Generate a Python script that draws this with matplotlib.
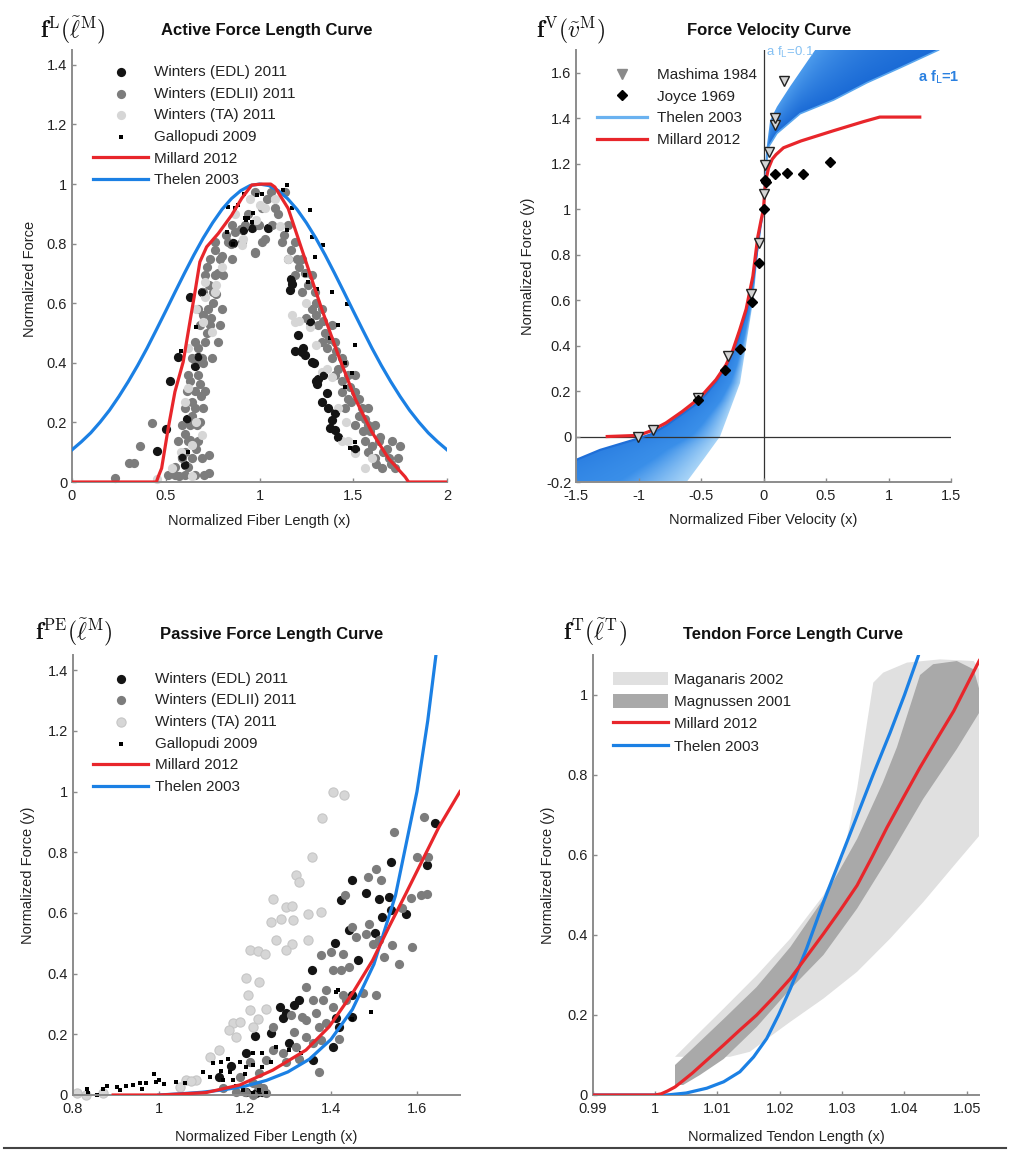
import numpy as np
import matplotlib
matplotlib.use('Agg')
import matplotlib.pyplot as plt
from matplotlib.patches import Polygon, Patch
from matplotlib.lines import Line2D
from matplotlib.colors import LinearSegmentedColormap

plt.rcParams['font.family'] = ['Liberation Sans', 'DejaVu Sans']
plt.rcParams['font.size'] = 10.5

# ---------------- DATA ----------------
# Active force-length
afl_thelen_y = [0.108, 0.135, 0.165, 0.201, 0.241, 0.287, 0.337, 0.391, 0.449, 0.511, 0.574,
                0.638, 0.701, 0.762, 0.819, 0.870, 0.915, 0.951, 0.978, 0.995, 1.0,
                0.995, 0.978, 0.951, 0.915, 0.870, 0.819, 0.762, 0.701, 0.638, 0.574,
                0.511, 0.449, 0.391, 0.337, 0.287, 0.241, 0.201, 0.165, 0.135, 0.108]
afl_thelen_x = [round(0.05 * i, 2) for i in range(41)]
afl_mil_x = [0.0, 0.45, 0.46, 0.478, 0.513, 0.549, 0.593, 0.629, 0.656, 0.682, 0.718, 0.78, 0.852, 0.905, 0.959,
             1.012, 1.06, 1.082, 1.153, 1.242, 1.331, 1.42, 1.51, 1.599, 1.688, 1.777, 1.795, 2.0]
afl_mil_y = [0.0, 0.0, 0.018, 0.046, 0.18, 0.303, 0.403, 0.538, 0.638, 0.739, 0.789, 0.834, 0.896, 0.952, 0.997,
             1.0, 1.0, 0.99, 0.918, 0.75, 0.582, 0.426, 0.28, 0.168, 0.079, 0.017, 0.0, 0.0]

afl_edl_x = [0.629, 0.563, 0.522, 0.670, 0.656, 0.615, 0.501, 0.454, 0.585, 0.603, 0.691, 0.852, 0.959, 1.046,
             1.171, 1.162, 1.269, 1.206, 1.224, 1.242, 1.278, 1.314, 1.305, 1.331, 1.366, 1.385, 1.376, 1.403,
             1.51, 1.40, 1.42, 1.36, 1.34, 1.30, 1.29, 1.17, 1.19, 1.23, 0.859, 0.913]
afl_edl_y = [0.622, 0.42, 0.339, 0.42, 0.39, 0.213, 0.178, 0.104, 0.085, 0.057, 0.638, 0.801, 0.851, 0.851,
             0.666, 0.644, 0.538, 0.493, 0.437, 0.426, 0.403, 0.347, 0.33, 0.269, 0.247, 0.208, 0.18, 0.174,
             0.112, 0.23, 0.15, 0.30, 0.36, 0.34, 0.40, 0.68, 0.44, 0.45, 0.802, 0.847]
afl_edlii_x = [0.513, 0.551, 0.604, 0.658, 0.703, 0.729, 0.585, 0.639, 0.693, 0.729, 0.567, 0.62, 0.674,
               0.585, 0.629, 0.665, 0.603, 0.656, 0.70, 0.611, 0.656, 0.709, 0.62, 0.674, 0.638, 0.691, 0.745,
               0.656, 0.709, 0.78, 0.682, 0.736, 0.789, 0.674, 0.727, 0.798, 0.70, 0.754, 0.709, 0.763, 0.807,
               0.736, 0.789, 0.852, 0.763, 0.834, 0.905, 0.852, 0.923, 0.995, 0.977,
               0.427, 0.364, 0.302, 0.328, 0.23,
               0.55, 0.62, 0.66, 0.60, 0.64, 0.68, 0.66, 0.72, 0.70, 0.75, 0.73, 0.78, 0.80, 0.87, 0.94, 0.82,
               0.57, 0.60, 0.63, 0.68, 0.64, 0.69, 0.63, 0.70, 0.67, 0.74, 0.77, 0.72, 0.76, 0.85, 0.90,
               0.975, 1.06, 1.135, 1.011, 1.082, 0.993, 1.064, 1.153, 1.011, 1.118, 1.189, 1.153, 1.225,
               1.189, 1.278, 1.225, 1.296, 1.278, 1.331, 1.314, 1.385, 1.331, 1.403, 1.385, 1.438,
               1.403, 1.474, 1.51, 1.438, 1.51, 1.456, 1.545, 1.581, 1.51, 1.581, 1.617, 1.563, 1.635, 1.706,
               1.617, 1.688, 1.741, 1.652, 1.724, 0.975, 1.028,
               1.25, 1.36, 1.42, 1.47, 1.53, 1.60, 1.66, 1.35, 1.30, 1.24, 1.20, 1.48, 1.55,
               1.04, 1.10, 1.13, 1.17, 1.21, 1.26, 1.30, 1.34, 1.37, 1.41, 1.45, 1.44, 1.49, 1.53, 1.56, 1.59,
               1.64, 1.68, 1.70, 1.62, 1.58, 1.75]
afl_edlii_y = [0.024, 0.024, 0.024, 0.024, 0.024, 0.03, 0.08, 0.08, 0.08, 0.09, 0.136, 0.136, 0.136,
               0.192, 0.192, 0.192, 0.248, 0.248, 0.248, 0.304, 0.304, 0.304, 0.36, 0.36, 0.416, 0.416, 0.416,
               0.47, 0.47, 0.47, 0.527, 0.527, 0.527, 0.582, 0.582, 0.582, 0.638, 0.638, 0.694, 0.694, 0.694,
               0.75, 0.75, 0.75, 0.806, 0.806, 0.806, 0.862, 0.862, 0.862, 0.77,
               0.197, 0.122, 0.063, 0.063, 0.013,
               0.05, 0.05, 0.11, 0.16, 0.27, 0.33, 0.40, 0.50, 0.56, 0.60, 0.66, 0.70, 0.76, 0.84, 0.90, 0.83,
               0.02, 0.10, 0.14, 0.20, 0.22, 0.29, 0.34, 0.40, 0.45, 0.55, 0.63, 0.72, 0.78, 0.80, 0.85,
               0.974, 0.974, 0.974, 0.918, 0.918, 0.862, 0.862, 0.862, 0.806, 0.806, 0.806, 0.75, 0.75,
               0.694, 0.694, 0.638, 0.638, 0.582, 0.582, 0.527, 0.527, 0.47, 0.47, 0.415, 0.415,
               0.359, 0.359, 0.359, 0.303, 0.303, 0.247, 0.247, 0.247, 0.192, 0.192, 0.192, 0.136, 0.136, 0.136,
               0.08, 0.08, 0.08, 0.046, 0.046, 0.773, 0.817,
               0.55, 0.45, 0.38, 0.28, 0.22, 0.12, 0.10, 0.50, 0.60, 0.70, 0.75, 0.32, 0.17,
               0.95, 0.90, 0.83, 0.78, 0.72, 0.66, 0.56, 0.54, 0.48, 0.44, 0.40, 0.34, 0.27, 0.28, 0.21, 0.17,
               0.15, 0.11, 0.06, 0.06, 0.10, 0.12]
afl_ta_x = [0.709, 0.763, 0.77, 0.70, 0.62, 0.603, 0.533, 0.745, 0.905, 0.914, 0.691, 0.638, 0.452,
            1.189, 1.171, 1.438, 1.474, 1.331, 1.153, 1.028, 1.385, 1.51, 1.42, 1.563,
            0.95, 1.0, 0.98, 1.08, 0.64, 0.62, 0.66, 1.21, 1.36, 1.27,
            0.58, 0.66, 0.71, 0.80, 1.11, 1.25, 1.46, 1.60, 1.30, 0.87]
afl_ta_y = [0.672, 0.638, 0.66, 0.538, 0.315, 0.27, 0.046, 0.503, 0.795, 0.817, 0.158, 0.124, 0.01,
            0.538, 0.56, 0.136, 0.136, 0.37, 0.75, 0.918, 0.353, 0.097, 0.247, 0.046,
            0.95, 0.93, 0.88, 0.95, 0.02, 0.45, 0.58, 0.54, 0.38, 0.52,
            0.10, 0.20, 0.62, 0.72, 0.86, 0.60, 0.20, 0.08, 0.46, 0.90]
afl_gal_x = [0.825, 0.887, 0.923, 0.959, 0.986, 0.918, 0.834, 0.87, 0.941, 1.269, 1.144, 1.126, 1.278, 1.34,
             1.296, 1.385, 1.465, 1.42, 1.376, 1.51, 1.456, 1.492, 1.456, 1.51, 1.011, 1.171, 1.144, 1.26,
             1.305, 1.242, 0.966, 0.93, 0.62, 0.58, 0.66, 1.483, 0.86]
afl_gal_y = [0.84, 0.929, 0.885, 0.873, 0.963, 0.968, 0.924, 0.92, 0.885, 0.912, 0.998, 0.98, 0.823, 0.795,
             0.755, 0.638, 0.599, 0.527, 0.483, 0.46, 0.398, 0.365, 0.32, 0.135, 0.968, 0.918, 0.845, 0.672,
             0.649, 0.694, 0.903, 0.88, 0.10, 0.44, 0.52, 0.114, 0.80]

# Force-velocity
fv_mil_x = [-1.25, -1.0, -0.9, -0.78, -0.65, -0.51, -0.38, -0.3, -0.245, -0.19, -0.139, -0.1, -0.085, -0.06,
            -0.045, -0.02, 0.0, 0.01, 0.02, 0.04, 0.07, 0.1, 0.16, 0.3, 0.56, 0.8, 0.93, 1.25]
fv_mil_y = [0.0, 0.005, 0.025, 0.06, 0.11, 0.17, 0.25, 0.315, 0.38, 0.47, 0.56, 0.665, 0.705, 0.816,
            0.88, 0.95, 1.0, 1.08, 1.13, 1.18, 1.22, 1.24, 1.27, 1.30, 1.345, 1.385, 1.405, 1.405]
fv_af1_neg_x = [-1.5, -1.308, -1.041, -0.9, -0.775, -0.508, -0.38, -0.295, -0.2, -0.135, -0.085, -0.055, -0.025, 0.0]
fv_af1_neg_y = [-0.103, -0.059, -0.015, 0.01, 0.05, 0.155, 0.24, 0.31, 0.43, 0.55, 0.69, 0.80, 0.92, 1.0]
fv_af01_neg_x = [-0.615, -0.48, -0.348, -0.188, -0.081, -0.015, 0.0]
fv_af01_neg_y = [-0.2, -0.1, 0.0, 0.235, 0.603, 0.97, 1.0]
fv_af1_pos_x = [0.0, 0.01, 0.027, 0.04, 0.107, 0.293, 0.56, 0.827, 1.093, 1.40]
fv_af1_pos_y = [1.0, 1.12, 1.215, 1.274, 1.333, 1.42, 1.48, 1.556, 1.622, 1.70]
fv_af01_pos_x = [0.0, 0.02, 0.053, 0.107, 0.213, 0.413]
fv_af01_pos_y = [1.0, 1.25, 1.39, 1.45, 1.54, 1.70]
mash_x = [-1.008, -0.888, -0.528, -0.288, -0.101, -0.035, 0.005, 0.01, 0.04, 0.088, 0.093, 0.165]
mash_y = [0.0, 0.029, 0.169, 0.353, 0.625, 0.853, 1.066, 1.195, 1.252, 1.37, 1.40, 1.563]
joyce_x = [-0.523, -0.307, -0.189, -0.096, -0.04, 0.0, 0.01, 0.019, 0.09, 0.184, 0.312, 0.533]
joyce_y = [0.162, 0.294, 0.387, 0.593, 0.765, 1.0, 1.13, 1.118, 1.154, 1.159, 1.154, 1.209]

# Passive force-length
pfl_thelen_x = [1.0, 1.05, 1.10, 1.15, 1.20, 1.25, 1.30, 1.35, 1.40, 1.45, 1.50, 1.55, 1.60, 1.625, 1.645]
pfl_thelen_y = [0.0, 0.004, 0.009, 0.017, 0.029, 0.048, 0.076, 0.118, 0.183, 0.282, 0.431, 0.657, 1.0, 1.233, 1.46]
pfl_mil_x = [0.894, 1.0, 1.033, 1.11, 1.188, 1.265, 1.342, 1.396, 1.45, 1.497, 1.535, 1.574, 1.6125, 1.651, 1.70]
pfl_mil_y = [0.0, 0.0, 0.002, 0.008, 0.033, 0.082, 0.148, 0.225, 0.335, 0.444, 0.554, 0.663, 0.773, 0.883, 1.0]
pfl_edl_x = [1.641, 1.624, 1.539, 1.448, 1.481, 1.512, 1.423, 1.535, 1.574, 1.54, 1.519, 1.503, 1.443, 1.462,
             1.409, 1.356, 1.327, 1.281, 1.296, 1.315, 1.224, 1.261, 1.45, 1.404, 1.358, 1.419, 1.412, 1.45,
             1.303, 1.288, 1.226, 1.203, 1.167, 1.14, 1.203, 1.24]
pfl_edl_y = [0.896, 0.757, 0.768, 0.709, 0.667, 0.647, 0.641, 0.652, 0.598, 0.609, 0.587, 0.534, 0.543, 0.444,
             0.502, 0.413, 0.3125, 0.291, 0.269, 0.296, 0.196, 0.205, 0.33, 0.159, 0.115, 0.225, 0.255, 0.257,
             0.171, 0.253, 0.005, 0.011, 0.097, 0.058, 0.137, 0.01]
pfl_edlii_x = [1.616, 1.547, 1.601, 1.625, 1.505, 1.486, 1.516, 1.609, 1.624, 1.433, 1.586, 1.566, 1.45, 1.489,
               1.481, 1.458, 1.497, 1.512, 1.543, 1.589, 1.377, 1.40, 1.427, 1.443, 1.404, 1.423, 1.523, 1.558,
               1.342, 1.388, 1.358, 1.381, 1.404, 1.427, 1.435, 1.474, 1.505, 1.307, 1.334, 1.342, 1.365, 1.373,
               1.388, 1.265, 1.315, 1.342, 1.358, 1.377, 1.419, 1.373, 1.319, 1.288, 1.265, 1.249, 1.296, 1.327,
               1.211, 1.234, 1.188, 1.219, 1.242, 1.149, 1.249, 1.20, 1.22, 1.18, 1.23]
pfl_edlii_y = [0.916, 0.866, 0.783, 0.783, 0.746, 0.718, 0.707, 0.659, 0.664, 0.659, 0.648, 0.615, 0.554, 0.565,
               0.532, 0.521, 0.499, 0.51, 0.494, 0.488, 0.461, 0.472, 0.466, 0.422, 0.411, 0.411, 0.455, 0.433,
               0.356, 0.347, 0.312, 0.312, 0.291, 0.329, 0.313, 0.335, 0.329, 0.263, 0.258, 0.247, 0.269, 0.225,
               0.236, 0.225, 0.208, 0.192, 0.17, 0.181, 0.186, 0.077, 0.159, 0.137, 0.148, 0.115, 0.11, 0.12,
               0.11, 0.071, 0.06, 0.038, 0.022, 0.022, 0.005, 0.01, 0.0, 0.01, 0.03]
pfl_ta_x = [1.404, 1.431, 1.379, 1.355, 1.319, 1.327, 1.265, 1.296, 1.31, 1.284, 1.261, 1.312, 1.346, 1.377,
            1.273, 1.31, 1.346, 1.211, 1.23, 1.248, 1.296, 1.203, 1.233, 1.207, 1.211, 1.249, 1.172, 1.188,
            1.164, 1.18, 1.23, 1.219, 1.141, 1.118, 1.064, 1.049, 0.809, 1.087, 1.074, 0.83, 0.87]
pfl_ta_y = [0.998, 0.987, 0.913, 0.784, 0.724, 0.702, 0.647, 0.619, 0.624, 0.581, 0.571, 0.576, 0.598, 0.603,
            0.51, 0.499, 0.51, 0.477, 0.475, 0.466, 0.477, 0.384, 0.373, 0.329, 0.28, 0.285, 0.236, 0.242,
            0.213, 0.192, 0.252, 0.225, 0.148, 0.126, 0.049, 0.027, 0.006, 0.05, 0.047, 0.0, 0.005]
pfl_gal_x = [0.836, 0.856, 0.833, 0.879, 0.902, 0.925, 0.94, 0.956, 0.971, 0.99, 0.994, 1.013, 1.041, 1.103,
             1.126, 1.145, 1.145, 1.165, 1.172, 1.188, 1.203, 1.218, 1.241, 1.241, 1.249, 1.218, 1.195, 1.234,
             1.272, 1.303, 1.33, 1.411, 1.45, 1.493, 1.416, 0.87, 0.91, 0.96, 1.0, 1.06, 1.12, 1.16, 1.20,
             1.22, 1.26, 1.18, 1.15]
pfl_gal_y = [0.005, 0.001, 0.021, 0.03, 0.026, 0.03, 0.033, 0.038, 0.04, 0.07, 0.044, 0.036, 0.044, 0.077,
             0.104, 0.11, 0.08, 0.077, 0.05, 0.11, 0.093, 0.137, 0.137, 0.093, 0.005, 0.005, 0.016, 0.016,
             0.159, 0.148, 0.137, 0.34, 0.252, 0.274, 0.345, 0.02, 0.015, 0.02, 0.05, 0.04, 0.06, 0.12, 0.07,
             0.10, 0.11, 0.03, 0.05]

# Tendon force-length
tfl_mil_x = [0.99, 1.0, 1.001, 1.002, 1.0032, 1.0045, 1.006, 1.0085, 1.011, 1.0135, 1.0163, 1.019, 1.0217,
             1.0243, 1.027, 1.0297, 1.0324, 1.0348, 1.0372, 1.0398, 1.0425, 1.0452, 1.0479, 1.052]
tfl_mil_y = [0.0, 0.0, 0.003, 0.01, 0.02, 0.036, 0.055, 0.09, 0.125, 0.161, 0.2, 0.244, 0.291,
             0.346, 0.403, 0.462, 0.524, 0.595, 0.669, 0.743, 0.819, 0.89, 0.96, 1.086]
tfl_thelen_x = [0.99, 1.0019, 1.005, 1.0083, 1.011, 1.0136, 1.0158, 1.0179, 1.0198, 1.0217, 1.0243, 1.027,
                1.0297, 1.0324, 1.035, 1.0377, 1.04, 1.0422]
tfl_thelen_y = [0.0, 0.0, 0.005, 0.017, 0.033, 0.058, 0.095, 0.141, 0.2, 0.266, 0.366, 0.482, 0.59, 0.698,
                0.802, 0.906, 1.0, 1.097]
magan_x = [1.0032, 1.0056, 1.011, 1.0163, 1.0217, 1.027, 1.0302, 1.0324, 1.034, 1.035, 1.0366, 1.0404, 1.0457,
           1.0511, 1.052, 1.052, 1.0484, 1.043, 1.0377, 1.0324, 1.027, 1.0217, 1.0195, 1.0152, 1.012]
magan_y = [0.0955, 0.133, 0.216, 0.299, 0.391, 0.499, 0.599, 0.765, 0.931, 1.031, 1.056, 1.081, 1.089,
           1.085, 1.064, 0.648, 0.582, 0.482, 0.391, 0.308, 0.241, 0.183, 0.158, 0.108, 0.0955]
magnu_x = [1.0032, 1.0056, 1.011, 1.0163, 1.0217, 1.027, 1.0324, 1.0365, 1.0388, 1.0425, 1.0446, 1.0484, 1.0511,
           1.052, 1.052, 1.0484, 1.043, 1.0377, 1.0324, 1.027, 1.0217, 1.0163, 1.011, 1.0072, 1.0045, 1.0032]
magnu_y = [0.075, 0.11, 0.19, 0.27, 0.37, 0.49, 0.64, 0.78, 0.87, 1.05, 1.077, 1.085, 1.064,
           1.014, 0.956, 0.865, 0.74, 0.599, 0.466, 0.35, 0.265, 0.17, 0.09, 0.05, 0.025, 0.025]

# Ticks
tl_xt = [0, 0.5, 1, 1.5, 2];            tl_xl = ['0', '0.5', '1', '1.5', '2']
tl_yt = [0, 0.2, 0.4, 0.6, 0.8, 1, 1.2, 1.4]; tl_yl = ['0', '0.2', '0.4', '0.6', '0.8', '1', '1.2', '1.4']
tr_xt = [-1.5, -1, -0.5, 0, 0.5, 1, 1.5]; tr_xl = ['-1.5', '-1', '-0.5', '0', '0.5', '1', '1.5']
tr_yt = [-0.2, 0, 0.2, 0.4, 0.6, 0.8, 1, 1.2, 1.4, 1.6]
tr_yl = ['-0.2', '0', '0.2', '0.4', '0.6', '0.8', '1', '1.2', '1.4', '1.6']
bl_xt = [0.8, 1, 1.2, 1.4, 1.6];         bl_xl = ['0.8', '1', '1.2', '1.4', '1.6']
br_xt = [0.99, 1, 1.01, 1.02, 1.03, 1.04, 1.05]
br_xl = ['0.99', '1', '1.01', '1.02', '1.03', '1.04', '1.05']
br_yt = [0, 0.2, 0.4, 0.6, 0.8, 1];      br_yl = ['0', '0.2', '0.4', '0.6', '0.8', '1']

# ---------------- STYLE ----------------
RED = '#e8262b'
BLUE = '#1b80e4'
LBLUE = '#6ab2f0'
C_EDL, C_EDLII, C_TA = '#141414', '#7c7c7c', '#d6d6d6'
TXT = '#222222'
SP = '#8c8c8c'

W, H = 1009, 1157
fig = plt.figure(figsize=(W / 100, H / 100), dpi=100)


def box(l, t, r, b):
    return [l / W, 1 - b / H, (r - l) / W, (b - t) / H]


def style(ax, xlim, ylim, xt, xl, yt, yl, xlabel, ylabel, xlc, ylc):
    ax.set_xlim(xlim)
    ax.set_ylim(ylim)
    ax.set_xticks(xt)
    ax.set_xticklabels(xl)
    ax.set_yticks(yt)
    ax.set_yticklabels(yl)
    for s in ['top', 'right']:
        ax.spines[s].set_visible(False)
    for s in ['left', 'bottom']:
        ax.spines[s].set_color(SP)
        ax.spines[s].set_linewidth(1.4)
    ax.tick_params(direction='in', length=3, width=1, color=SP, labelsize=10.5, labelcolor=TXT)
    ax.tick_params(axis='x', pad=5)
    ax.tick_params(axis='y', pad=3.5)
    ax.set_xlabel(xlabel, fontsize=10.5, color=TXT, va='center')
    ax.set_ylabel(ylabel, fontsize=10.5, color=TXT, va='center')
    ax.xaxis.set_label_coords(0.5, xlc)
    ax.yaxis.set_label_coords(ylc[0], ylc[1])
    ax.set_facecolor('none')


def fig_text(px, py, s, **kw):
    fig.text(px / W, 1 - py / H, s, **kw)


SC = dict(s=44, linewidths=0, clip_on=False, zorder=2)
SQ = dict(s=12, marker='s', linewidths=0, clip_on=False, zorder=2)
LEG = dict(loc='upper left', frameon=False, fontsize=11, borderaxespad=0, borderpad=0, labelcolor=TXT)

# ---------- Active force length ----------
ax1 = fig.add_axes(box(72, 50, 447, 482))
h_edl = ax1.scatter(afl_edl_x, afl_edl_y, color=C_EDL, **SC)
h_edlii = ax1.scatter(afl_edlii_x, afl_edlii_y, color=C_EDLII, **SC)
h_ta = ax1.scatter(afl_ta_x, afl_ta_y, color=C_TA, **SC)
ax1.scatter(afl_edl_x, afl_edl_y, color=C_EDL, **dict(SC, s=30))
h_gal = ax1.scatter(afl_gal_x, afl_gal_y, color='black', **SQ)
h_mil, = ax1.plot(afl_mil_x, afl_mil_y, color=RED, lw=2.3, zorder=4)
h_the, = ax1.plot(afl_thelen_x, afl_thelen_y, color=BLUE, lw=2.3, zorder=3)
style(ax1, (0, 2), (0, 1.45), tl_xt, tl_xl, tl_yt, tl_yl,
      'Normalized Fiber Length (x)', 'Normalized Force', -0.09, (-0.112, 0.47))
ax1.legend([h_edl, h_edlii, h_ta, h_gal, h_mil, h_the],
           ['Winters (EDL) 2011', 'Winters (EDLII) 2011', 'Winters (TA) 2011', 'Gallopudi 2009',
            'Millard 2012', 'Thelen 2003'],
           bbox_to_anchor=(0.056, 0.965), handlelength=3.6, handletextpad=0.4, labelspacing=0.5,
           scatterpoints=1, **LEG)

# ---------- Force velocity ----------
ax2 = fig.add_axes(box(576, 50, 951, 482))
cmap_neg = LinearSegmentedColormap.from_list('fvn', [(0, '#2c80e2'), (0.6, '#3a8fe9'), (1, '#a8d4f7')])
cmap_pos = LinearSegmentedColormap.from_list('fvp', [(0, '#1b6bd6'), (1, '#4c9bec')])


def grad_fill(ax, poly, extent, tfunc, cmap):
    xs = np.linspace(extent[0], extent[1], 500)
    ys = np.linspace(extent[2], extent[3], 500)
    X, Y = np.meshgrid(xs, ys)
    T = np.clip(tfunc(X, Y), 0, 1)
    im = ax.imshow(cmap(T), extent=extent, origin='lower', aspect='auto', zorder=1,
                   interpolation='bilinear')
    patch = Polygon(poly, closed=True, transform=ax.transData, facecolor='none', edgecolor='none')
    ax.add_patch(patch)
    im.set_clip_path(patch)


def t_neg(X, Y):
    xa = np.interp(Y, fv_af1_neg_y, fv_af1_neg_x)
    xa = np.where(Y < fv_af1_neg_y[0], fv_af1_neg_x[0] + (Y - fv_af1_neg_y[0]) * 5.0, xa)
    xb = np.interp(Y, fv_af01_neg_y, fv_af01_neg_x)
    return (X - xa) / np.maximum(xb - xa, 1e-6)


def t_pos(X, Y):
    ya = np.interp(X, fv_af1_pos_x, fv_af1_pos_y)
    yb = np.interp(X, fv_af01_pos_x, fv_af01_pos_y)
    yb = np.where(X > fv_af01_pos_x[-1], fv_af01_pos_y[-1] + 0.8 * (X - fv_af01_pos_x[-1]), yb)
    return (Y - ya) / np.maximum(yb - ya, 1e-6)


neg_poly = list(zip(fv_af1_neg_x, fv_af1_neg_y)) + list(zip(fv_af01_neg_x[::-1], fv_af01_neg_y[::-1]))[1:] \
    + [(-1.5, -0.2)]
pos_poly = list(zip(fv_af01_pos_x, fv_af01_pos_y)) + list(zip(fv_af1_pos_x[::-1], fv_af1_pos_y[::-1]))[:-1]
grad_fill(ax2, neg_poly, [-1.5, 0.0, -0.2, 1.0], t_neg, cmap_neg)
grad_fill(ax2, pos_poly, [0.0, 1.42, 1.0, 1.7], t_pos, cmap_pos)
ax2.plot(fv_af1_neg_x, fv_af1_neg_y, color='#1f6fd8', lw=1.6, zorder=2)
ax2.plot(fv_af1_pos_x, fv_af1_pos_y, color='#5aa6ee', lw=1.2, zorder=2)
ax2.axhline(0, color='#333333', lw=0.9, zorder=1.5)
ax2.axvline(0, color='#333333', lw=0.9, zorder=1.5)
ax2.plot(fv_mil_x, fv_mil_y, color=RED, lw=2.3, zorder=3)
ax2.plot(mash_x, mash_y, ls='none', marker='v', ms=6.5, mfc='#d4d4d4', mec='#222222', mew=1.0, zorder=4)
ax2.plot(joyce_x, joyce_y, ls='none', marker='D', ms=5.5, mfc='black', mec='black', zorder=5)
ax2.text(0.02, 1.69, r'a f$_\mathrm{L}$=0.1', color='#86c1f3', fontsize=9.5, va='center', ha='left',
         math_fontfamily='dejavusans', clip_on=False, zorder=6)
ax2.text(1.236, 1.58, r'a f$_\mathrm{L}$=1', color='#2a80e0', fontsize=10.5, fontweight='bold',
         va='center', ha='left', math_fontfamily='dejavusans', zorder=6)
style(ax2, (-1.5, 1.5), (-0.2, 1.7), tr_xt, tr_xl, tr_yt, tr_yl,
      'Normalized Fiber Velocity (x)', 'Normalized Force (y)', -0.088, (-0.128, 0.5))
lh = [Line2D([], [], ls='none', marker='v', ms=7, mfc='#8a8a8a', mec='#8a8a8a'),
      Line2D([], [], ls='none', marker='D', ms=5.5, mfc='black', mec='black'),
      Line2D([], [], color=LBLUE, lw=2.3),
      Line2D([], [], color=RED, lw=2.3)]
ax2.legend(lh, ['Mashima 1984', 'Joyce 1969', 'Thelen 2003', 'Millard 2012'],
           bbox_to_anchor=(0.056, 0.958), handlelength=3.3, handletextpad=0.6, labelspacing=0.5, **LEG)

# ---------- Passive force length ----------
ax3 = fig.add_axes(box(72.7, 655, 460, 1095))
h_edl = ax3.scatter(pfl_edl_x, pfl_edl_y, color=C_EDL, **SC)
h_edlii = ax3.scatter(pfl_edlii_x, pfl_edlii_y, color=C_EDLII, **SC)
h_ta = ax3.scatter(pfl_ta_x, pfl_ta_y, color=C_TA, edgecolors='#c6c6c6', **dict(SC, linewidths=0.8))
h_gal = ax3.scatter(pfl_gal_x, pfl_gal_y, color='black', **SQ)
h_mil, = ax3.plot(pfl_mil_x, pfl_mil_y, color=RED, lw=2.3, zorder=4)
h_the, = ax3.plot(pfl_thelen_x, pfl_thelen_y, color=BLUE, lw=2.3, zorder=3)
style(ax3, (0.8, 1.7), (0, 1.45), bl_xt, bl_xl, tl_yt, tl_yl,
      'Normalized Fiber Length (x)', 'Normalized Force (y)', -0.095, (-0.115, 0.5))
ax3.legend([h_edl, h_edlii, h_ta, h_gal, h_mil, h_the],
           ['Winters (EDL) 2011', 'Winters (EDLII) 2011', 'Winters (TA) 2011', 'Gallopudi 2009',
            'Millard 2012', 'Thelen 2003'],
           bbox_to_anchor=(0.053, 0.962), handlelength=3.6, handletextpad=0.45, labelspacing=0.5,
           scatterpoints=1, **LEG)

# ---------- Tendon force length ----------
ax4 = fig.add_axes(box(592.7, 655, 979.3, 1095))
ax4.fill(magan_x, magan_y, color='#e0e0e0', lw=0, zorder=1)
ax4.fill(magnu_x, magnu_y, color='#a9a9a9', lw=0, zorder=1.5)
ax4.plot(tfl_mil_x, tfl_mil_y, color=RED, lw=2.3, zorder=4)
ax4.plot(tfl_thelen_x, tfl_thelen_y, color=BLUE, lw=2.3, zorder=3)
style(ax4, (0.99, 1.052), (0, 1.1), br_xt, br_xl, br_yt, br_yl,
      'Normalized Tendon Length (x)', 'Normalized Force (y)', -0.095, (-0.116, 0.5))
lh = [Patch(color='#e0e0e0', lw=0), Patch(color='#a9a9a9', lw=0),
      Line2D([], [], color=RED, lw=2.3), Line2D([], [], color=BLUE, lw=2.3)]
ax4.legend(lh, ['Maganaris 2002', 'Magnussen 2001', 'Millard 2012', 'Thelen 2003'],
           bbox_to_anchor=(0.053, 0.962), handlelength=3.6, handleheight=1.0, handletextpad=0.4,
           labelspacing=0.47, **LEG)

# ---------- Titles and math labels ----------
TT = dict(fontsize=12, fontweight='bold', color='#111111', ha='center', va='center')
fig_text(267, 31, 'Active Force Length Curve', **TT)
fig_text(769, 31, 'Force Velocity Curve', **TT)
fig_text(272, 634, 'Passive Force Length Curve', **TT)
fig_text(793, 634, 'Tendon Force Length Curve', **TT)
MT = dict(fontsize=17, math_fontfamily='cm', color='#111111', ha='left', va='center')
fig_text(40, 30, r'$\mathbf{f}^{\mathrm{L}}(\tilde{\ell}^{\mathrm{M}})$', **MT)
fig_text(536, 30, r'$\mathbf{f}^{\mathrm{V}}(\tilde{v}^{\mathrm{M}})$', **MT)
fig_text(35, 632, r'$\mathbf{f}^{\mathrm{PE}}(\tilde{\ell}^{\mathrm{M}})$', **MT)
fig_text(563, 632, r'$\mathbf{f}^{\mathrm{T}}(\tilde{\ell}^{\mathrm{T}})$', **MT)

fig.add_artist(Line2D([4 / W, 1006 / W], [1 - 1148 / H, 1 - 1148 / H], color='#444444', lw=1.5))

fig.savefig('out.png', dpi=100, facecolor='white')
